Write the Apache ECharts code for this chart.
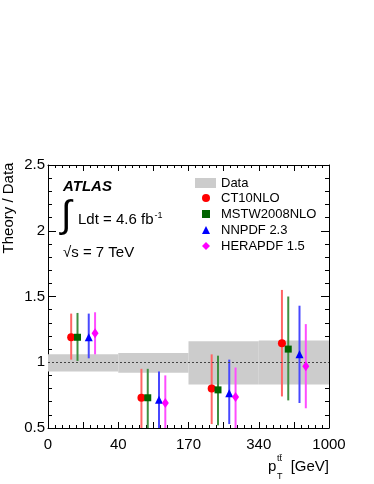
<!DOCTYPE html>
<html>
<head>
<meta charset="utf-8">
<title>Theory / Data</title>
<script src="https://cdn.jsdelivr.net/npm/echarts@6/dist/echarts.min.js"></script>
<style>
  html, body { margin: 0; padding: 0; background: #fff; }
  #main { width: 374px; height: 484px; }
</style>
</head>
<body>
<div id="main"></div>
<script type="text/javascript">
// bin edges shown as tick labels (bins are drawn with equal width)
var binLabels = ['0', '40', '170', '340', '1000'];

// data uncertainty band per bin (ratio = 1)
var bandLow  = [0.93, 0.92, 0.83, 0.83];
var bandHigh = [1.06, 1.07, 1.16, 1.165];

// theory / data per bin, with lower and upper error ends
var ct10    = [1.19, 0.73, 0.80, 1.145];
var ct10Lo  = [1.02, 0.50, 0.53, 0.74];
var ct10Hi  = [1.37, 0.95, 1.06, 1.55];

var mstw    = [1.19, 0.73, 0.79, 1.10];
var mstwLo  = [1.01, 0.50, 0.52, 0.71];
var mstwHi  = [1.375, 0.95, 1.05, 1.50];

var nnpdf   = [1.19, 0.715, 0.765, 1.06];
var nnpdfLo = [1.03, 0.50, 0.53, 0.69];
var nnpdfHi = [1.37, 0.93, 1.02, 1.43];

var hera    = [1.22, 0.69, 0.735, 0.97];
var heraLo  = [1.06, 0.50, 0.50, 0.65];
var heraHi  = [1.38, 0.90, 0.96, 1.29];

var FONT = '"Liberation Sans", Arial, Helvetica, sans-serif';
var myChart = echarts.init(document.getElementById('main'));

// where inside a bin each prediction sits
var offsets = [0.33, 0.42, 0.58, 0.67];

function pts(vals, k) {
    return vals.map(function (v, i) { return [i + offsets[k], v]; });
}
function errs(lo, hi, k) {
    return lo.map(function (v, i) { return [i + offsets[k], v, hi[i]]; });
}
function errSeries(lo, hi, k, color) {
    return {
        type: 'custom',
        clip: true,
        encode: { x: 0, y: [1, 2] },
        data: errs(lo, hi, k),
        z: 3,
        silent: true,
        renderItem: function (params, api) {
            var a = api.coord([api.value(0), api.value(1)]);
            var b = api.coord([api.value(0), api.value(2)]);
            return {
                type: 'line',
                shape: { x1: a[0], y1: a[1], x2: b[0], y2: b[1] },
                style: { stroke: color, lineWidth: 2 }
            };
        }
    };
}
function markSeries(name, vals, k, symbol, size, color) {
    return {
        name: name,
        type: 'scatter',
        symbol: symbol,
        symbolSize: size,
        itemStyle: { color: color, opacity: 1 },
        data: pts(vals, k),
        z: 5,
        silent: true
    };
}

var bandData = bandLow.map(function (v, i) { return [i, i + 1, v, bandHigh[i]]; });

var xTick = {
    type: 'value', min: 0, max: 4, interval: 0.5,
    axisLine: { show: true, onZero: false, lineStyle: { color: '#000', width: 1 } },
    axisTick: { show: true, inside: true, length: 6, lineStyle: { color: '#000' } },
    minorTick: { show: true, splitNumber: 5, length: 3, lineStyle: { color: '#000' } },
    splitLine: { show: false }
};
var yTick = {
    type: 'value', min: 0.5, max: 2.5, interval: 0.5,
    axisLine: { show: true, onZero: false, lineStyle: { color: '#000', width: 1 } },
    axisTick: { show: true, inside: true, length: 8, lineStyle: { color: '#000' } },
    minorTick: { show: true, splitNumber: 5, length: 4, lineStyle: { color: '#000' } },
    splitLine: { show: false }
};

var option = {
    animation: false,
    backgroundColor: '#fff',
    grid: { left: 48, right: 45, top: 165, bottom: 56 },
    xAxis: [
        echarts.util.merge({
            position: 'bottom',
            axisLabel: {
                show: true, margin: 9, fontSize: 15, color: '#000', fontFamily: FONT,
                formatter: function (v) { return v % 1 === 0 ? binLabels[v] : ''; }
            }
        }, xTick, true),
        echarts.util.merge({ position: 'top', axisLabel: { show: false } }, xTick, true)
    ],
    yAxis: [
        echarts.util.merge({
            position: 'left',
            axisLabel: { show: true, margin: 3, fontSize: 15, color: '#000', fontFamily: FONT }
        }, yTick, true),
        echarts.util.merge({ position: 'right', axisLabel: { show: false } }, yTick, true)
    ],
    legend: [
        {
            data: [{ name: 'Data', icon: 'rect' }],
            orient: 'vertical', left: 195, top: 176, padding: 0,
            itemWidth: 21, itemHeight: 10, selectedMode: false,
            textStyle: { fontSize: 13, color: '#000', fontFamily: FONT, lineHeight: 14 }
        },
        {
            data: ['CT10NLO', 'MSTW2008NLO', 'NNPDF 2.3', 'HERAPDF 1.5'],
            orient: 'vertical', left: 202, top: 191, padding: 0,
            itemWidth: 8, itemHeight: 8, itemGap: 2, selectedMode: false,
            textStyle: { fontSize: 13, color: '#000', fontFamily: FONT, lineHeight: 14, padding: [0, 0, 0, 6] }
        }
    ],
    graphic: [
        { type: 'text', rotation: Math.PI / 2, x: 9, y: 208,
          style: { text: 'Theory / Data', font: '15px ' + FONT, fill: '#000', align: 'center', verticalAlign: 'middle' } },
        { type: 'text', x: 63, y: 187,
          style: { text: 'ATLAS', font: 'italic bold 15px ' + FONT, fill: '#000', verticalAlign: 'middle' } },
        { type: 'text', x: 61, y: 217,
          style: { text: '\u222B', font: '38px ' + FONT, fill: '#000', verticalAlign: 'middle' } },
        { type: 'text', x: 78, y: 220,
          style: { text: '{a|Ldt = 4.6 fb}{s|-1}', fill: '#000', verticalAlign: 'middle',
                   rich: { a: { font: '15px ' + FONT, lineHeight: 18 },
                           s: { font: '9px ' + FONT, verticalAlign: 'top', lineHeight: 18, padding: [0, 0, 8, 1] } } } },
        { type: 'text', x: 63, y: 253,
          style: { text: '\u221As = 7 TeV', font: '15px ' + FONT, fill: '#000', verticalAlign: 'middle' } },
        { type: 'text', x: 268, y: 467,
          style: { text: 'p', font: '15px ' + FONT, fill: '#000', verticalAlign: 'middle' } },
        { type: 'text', x: 277, y: 459,
          style: { text: 'tt\u0304', font: '9px ' + FONT, fill: '#000', verticalAlign: 'middle' } },
        { type: 'text', x: 277, y: 477,
          style: { text: 'T', font: '9px ' + FONT, fill: '#000', verticalAlign: 'middle' } },
        { type: 'text', x: 329, y: 467,
          style: { text: '[GeV]', font: '15px ' + FONT, fill: '#000', align: 'right', verticalAlign: 'middle' } }
    ],
    series: [
        {
            name: 'Data',
            type: 'custom',
            encode: { x: [0, 1], y: [2, 3] },
            data: bandData,
            itemStyle: { color: '#cccccc' },
            z: 1,
            silent: true,
            renderItem: function (params, api) {
                var p0 = api.coord([api.value(0), api.value(3)]);
                var p1 = api.coord([api.value(1), api.value(2)]);
                return {
                    type: 'rect',
                    shape: { x: p0[0], y: p0[1], width: p1[0] - p0[0], height: p1[1] - p0[1] },
                    style: { fill: '#cccccc' }
                };
            },
            markLine: {
                silent: true, symbol: 'none', label: { show: false },
                lineStyle: { color: '#444', width: 1, type: [2, 2] },
                data: [{ yAxis: 1 }]
            }
        },
        errSeries(ct10Lo, ct10Hi, 0, '#ff6464'),
        errSeries(mstwLo, mstwHi, 1, '#3f8f3f'),
        errSeries(nnpdfLo, nnpdfHi, 2, '#4848ff'),
        errSeries(heraLo, heraHi, 3, '#ff4cff'),
        markSeries('CT10NLO', ct10, 0, 'circle', 8, '#ff0000'),
        markSeries('MSTW2008NLO', mstw, 1, 'rect', 7, '#006400'),
        markSeries('NNPDF 2.3', nnpdf, 2, 'triangle', 8, '#0000ff'),
        markSeries('HERAPDF 1.5', hera, 3, 'diamond', [7, 10], '#ff00ff')
    ]
};

myChart.setOption(option);
</script>
</body>
</html>
